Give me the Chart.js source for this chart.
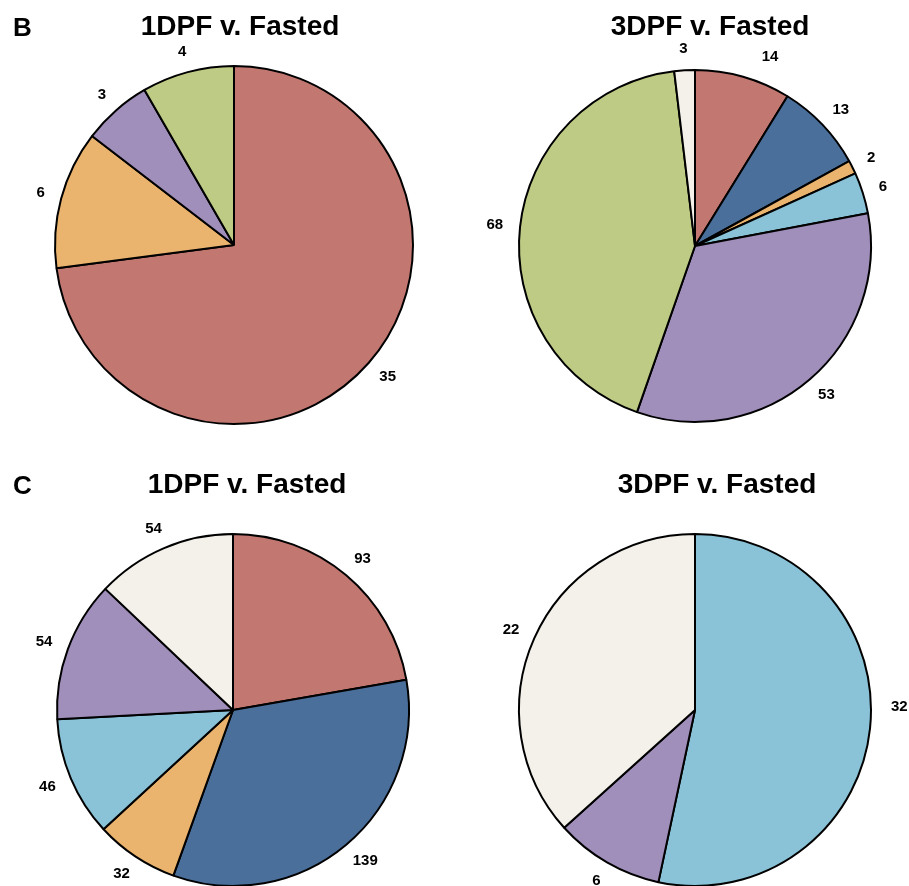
<!DOCTYPE html>
<html>
<head>
<meta charset="utf-8">
<script src="https://cdn.jsdelivr.net/npm/chart.js@4/dist/chart.umd.min.js"></script>
<style>
  html, body { margin: 0; padding: 0; background: #fff; }
  body { width: 909px; height: 886px; overflow: hidden; position: relative; font-family: "Liberation Sans", Arial, sans-serif; }
  canvas { position: absolute; }
  .txt { position: absolute; font-weight: bold; font-size: 26px; line-height: 26px; color: #000; white-space: nowrap; z-index: 2; }
  .title { font-size: 28px; line-height: 28px; transform: translateX(-50%); }
</style>
</head>
<body>
<div class="txt" style="left:13px;top:14px;">B</div>
<div class="txt" style="left:13px;top:472px;">C</div>
<div class="txt title" style="left:240px;top:12px;">1DPF v. Fasted</div>
<div class="txt title" style="left:710px;top:12px;">3DPF v. Fasted</div>
<div class="txt title" style="left:247px;top:470px;">1DPF v. Fasted</div>
<div class="txt title" style="left:717px;top:470px;">3DPF v. Fasted</div>

<canvas id="pieB1" width="460" height="460" style="left:4px;top:15px;"></canvas>
<canvas id="pieB3" width="460" height="460" style="left:465px;top:16px;"></canvas>
<canvas id="pieC1" width="460" height="460" style="left:3px;top:480px;"></canvas>
<canvas id="pieC3" width="460" height="460" style="left:465px;top:480px;"></canvas>

<script>
// slice colours by group
const groupColors = {
  red: "#c27870",
  blue: "#4a6f9b",
  orange: "#ebb46e",
  lightblue: "#8ac3d7",
  purple: "#a08ebb",
  green: "#becb85",
  cream: "#f4f1ea"
};

// panel B
const b1Categories = ["red", "orange", "purple", "green"];
const b1Values = [35, 6, 3, 4];

const b3Categories = ["red", "blue", "orange", "lightblue", "purple", "green", "cream"];
const b3Values = [14, 13, 2, 6, 53, 68, 3];

// panel C
const c1Categories = ["red", "blue", "orange", "lightblue", "purple", "cream"];
const c1Values = [93, 139, 32, 46, 54, 54];

const c3Categories = ["lightblue", "purple", "cream"];
const c3Values = [32, 6, 22];

const outsideLabels = {
  id: "outsideLabels",
  afterDatasetsDraw(chart, args, opts) {
    const ctx = chart.ctx;
    const meta = chart.getDatasetMeta(0);
    const values = chart.data.datasets[0].data;
    ctx.save();
    ctx.font = "bold 15px 'Liberation Sans', Arial, sans-serif";
    ctx.fillStyle = "#000";
    ctx.textAlign = "center";
    ctx.textBaseline = "middle";
    meta.data.forEach((arc, i) => {
      const p = arc.getProps(["x", "y", "startAngle", "endAngle", "outerRadius"], true);
      const mid = (p.startAngle + p.endAngle) / 2;
      const text = String(values[i]);
      const w = ctx.measureText(text).width;
      const d = p.outerRadius + 21;
      let lx = p.x + Math.cos(mid) * d + Math.cos(mid) * Math.max(w / 2 - 4, 0);
      let ly = p.y + Math.sin(mid) * d;
      const nudge = (opts.nudge || {})[i];
      if (nudge) { lx += nudge[0]; ly += nudge[1]; }
      ctx.fillText(text, lx, ly);
    });
    ctx.restore();
  }
};

function makePie(id, categories, values, radius, nudge) {
  const ctx = document.getElementById(id).getContext("2d");
  return new Chart(ctx, {
    type: "pie",
    data: {
      labels: categories,
      datasets: [
        {
          data: values,
          backgroundColor: categories.map((c) => groupColors[c]),
          borderColor: "#000",
          borderWidth: 2,
          radius: radius
        }
      ]
    },
    options: {
      responsive: false,
      animation: false,
      layout: { padding: 0 },
      plugins: {
        legend: { display: false },
        tooltip: { enabled: false },
        outsideLabels: { nudge: nudge }
      }
    },
    plugins: [outsideLabels]
  });
}

makePie("pieB1", b1Categories, b1Values, 179);
makePie("pieB3", b3Categories, b3Values, 176, { 0: [20, 0] });
makePie("pieC1", c1Categories, c1Values, 176);
makePie("pieC3", c3Categories, c3Values, 176, { 0: [4, -24] });
</script>
</body>
</html>
